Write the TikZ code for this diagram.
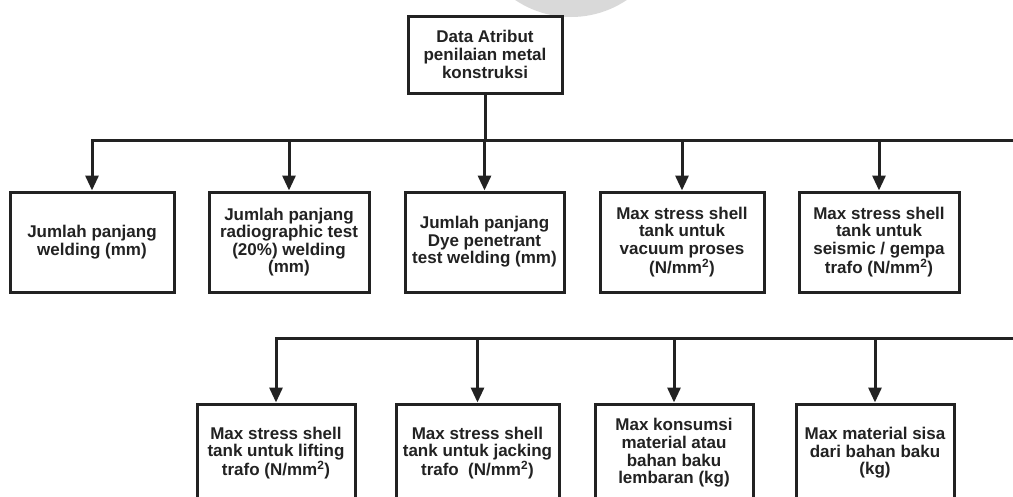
\documentclass[tikz,border=0pt]{standalone}
\usepackage{fontspec}
\setmainfont{Liberation Sans}
\usetikzlibrary{arrows.meta}

\definecolor{ink}{HTML}{222222}
\definecolor{softgrey}{HTML}{D9D9D9}

\tikzset{
  box/.style={draw=ink, line width=3pt, fill=white, align=center,
    text=ink, inner sep=2pt,
    font=\fontsize{17}{17.6}\selectfont\bfseries},
  link/.style={draw=ink, line width=3pt},
  arr/.style={link, -{Triangle[length=15pt,width=13pt]}},
}

\begin{document}
\begin{tikzpicture}[x=1pt, y=-1pt]
  \useasboundingbox (0,0) rectangle (1013,496);
  \clip (0,0) rectangle (1013,496);

  % faint round disc at the top edge
  \fill[softgrey] (571,-83) circle (100);

  % root
  \node[box, minimum width=154pt, minimum height=77pt] (top) at (485,54.5)
    {Data Atribut\\penilaian metal\\konstruksi};

  % first row
  \node[box, minimum width=164pt, minimum height=100pt] (a1) at (92,242)
    {Jumlah panjang\\welding (mm)};
  \node[box, minimum width=160pt, minimum height=100pt] (a2) at (289,242)
    {Jumlah panjang\\radiographic test\\(20\%) welding\\(mm)};
  \node[box, minimum width=159pt, minimum height=100pt] (a3) at (484.5,242)
    {Jumlah panjang\\Dye penetrant\\test welding (mm)};
  \node[box, minimum width=164pt, minimum height=100pt] (a4) at (682,242)
    {Max stress shell\\tank untuk\\vacuum proses\\(N/mm\textsuperscript{2})};
  \node[box, minimum width=160pt, minimum height=100pt] (a5) at (879,242)
    {Max stress shell\\tank untuk\\seismic / gempa\\trafo (N/mm\textsuperscript{2})};

  % second row
  \node[box, minimum width=158pt, minimum height=98pt] (b1) at (276,453)
    {Max stress shell\\tank untuk lifting\\trafo (N/mm\textsuperscript{2})};
  \node[box, minimum width=163pt, minimum height=98pt] (b2) at (477.5,453)
    {Max stress shell\\tank untuk jacking\\trafo\hspace{0.55em}(N/mm\textsuperscript{2})};
  \node[box, minimum width=158pt, minimum height=98pt] (b3) at (674,453)
    {Max konsumsi\\material atau\\bahan baku\\lembaran (kg)};
  \node[box, minimum width=158pt, minimum height=98pt] (b4) at (875,453)
    {Max material sisa\\dari bahan baku\\(kg)};

  % bus lines
  \coordinate (busA) at (92,140);
  \coordinate (busAend) at (1025,140);
  \coordinate (busB) at (276,338);
  \coordinate (busBend) at (1025,338);

  \draw[link] (top.south) -- (top.south |- busA);
  \draw[arr] (busAend) -- (busA) -- (a1.north);
  \foreach \n in {a2,a3,a4,a5}
    \draw[arr] (\n.north |- busA) -- (\n.north);

  \draw[arr] (busBend) -- (busB) -- (b1.north);
  \foreach \n in {b2,b3,b4}
    \draw[arr] (\n.north |- busB) -- (\n.north);
\end{tikzpicture}
\end{document}
